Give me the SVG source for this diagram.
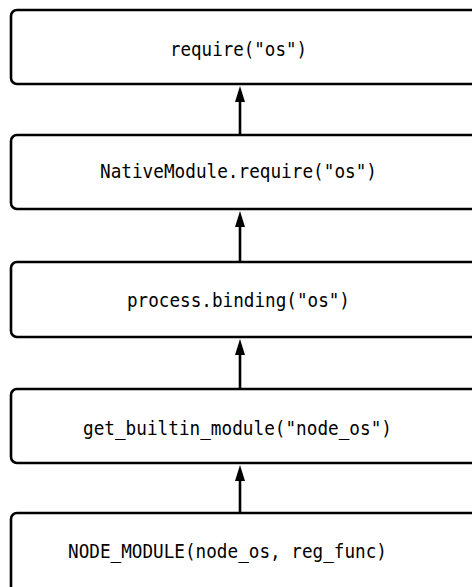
<svg xmlns="http://www.w3.org/2000/svg" width="472" height="587" viewBox="0 0 472 587">
<style>
.box{fill:#fff;stroke:#000;stroke-width:2.6}
.lbl{font-family:"DejaVu Sans Mono","Liberation Mono",monospace;font-size:19.5px;fill:#000}
.con{stroke:#000;stroke-width:2.6;fill:none}
</style>
<rect width="472" height="587" fill="#fff"/>
<g id="n1"><rect class="box" x="11" y="10" width="480" height="74" rx="6"/><text class="lbl" x="170" y="56" textLength="137" lengthAdjust="spacingAndGlyphs">require("os")</text></g>
<g id="n2"><rect class="box" x="11" y="135" width="480" height="74" rx="6"/><text class="lbl" x="100" y="178" textLength="277" lengthAdjust="spacingAndGlyphs">NativeModule.require("os")</text></g>
<g id="n3"><rect class="box" x="11" y="262" width="480" height="75" rx="6"/><text class="lbl" x="127" y="307" textLength="223" lengthAdjust="spacingAndGlyphs">process.binding("os")</text></g>
<g id="n4"><rect class="box" x="11" y="389" width="480" height="74" rx="6"/><text class="lbl" x="83" y="435" textLength="309" lengthAdjust="spacingAndGlyphs">get_builtin_module("node_os")</text></g>
<g id="n5"><rect class="box" x="11" y="513" width="480" height="90" rx="6"/><text class="lbl" x="68" y="558" textLength="319" lengthAdjust="spacingAndGlyphs">NODE_MODULE(node_os, reg_func)</text></g>
<g id="connectors">
<line class="con" x1="240" y1="135" x2="240" y2="96"/>
<line class="con" x1="240" y1="262" x2="240" y2="221"/>
<line class="con" x1="240" y1="389" x2="240" y2="349"/>
<line class="con" x1="240" y1="513" x2="240" y2="475"/>
<path d="M240,86 l-5,16 h10 Z M240,211 l-5,16 h10 Z M240,339 l-5,16 h10 Z M240,465 l-5,16 h10 Z" fill="#000"/>
</g>
</svg>
